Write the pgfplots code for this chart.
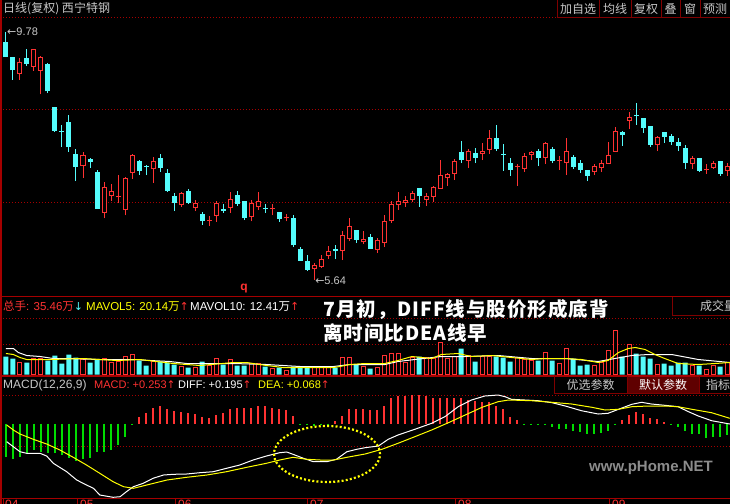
\documentclass[border=0pt]{standalone}
\usepackage{pgfplots}
\pgfplotsset{compat=1.18}
\usepackage{pgfplotstable}
\usepackage{fontspec}
\setmainfont{Liberation Sans}
\newfontfamily\cjk{Noto Sans CJK SC}
\newfontfamily\annot[LetterSpace=5]{Noto Sans CJK SC}
\newfontfamily\dejavu{DejaVu Sans}
\newcommand\fs[1]{\fontsize{#1bp}{#1bp}\selectfont}
\definecolor{cy}{RGB}{84,252,252}
\definecolor{rd}{RGB}{255,50,50}
\definecolor{gn}{RGB}{0,220,0}
\definecolor{yl}{RGB}{255,255,0}
\definecolor{dkr}{RGB}{128,0,0}
\definecolor{sep}{RGB}{165,0,0}
\definecolor{lg}{RGB}{200,200,200}
\definecolor{wm}{RGB}{140,140,140}
\definecolor{btn}{RGB}{95,0,0}

\pgfplotstableread{
i o h l c
0 9.61 9.78 9.36 9.36
1 9.36 9.36 8.98 9.14
3 9.35 9.50 9.21 9.25
6 9.25 9.26 8.76 8.79
7 8.53 8.53 8.11 8.13
8 8.13 8.23 7.86 8.11
9 8.28 8.39 7.78 7.86
10 7.74 7.83 7.29 7.53
12 7.66 7.68 7.51 7.61
13 7.44 7.48 6.83 6.83
19 7.63 7.64 7.39 7.46
20 7.55 7.56 7.39 7.53
22 7.68 7.74 7.44 7.51
23 7.43 7.49 7.11 7.13
24 7.04 7.09 6.79 6.93
26 7.13 7.16 6.91 6.93
28 6.74 6.77 6.56 6.62
31 6.83 6.91 6.76 6.79
33 7.06 7.13 6.88 6.91
34 6.96 6.96 6.64 6.67
37 6.83 6.91 6.76 6.82
39 6.77 6.77 6.61 6.66
41 6.67 6.72 6.19 6.22
42 6.16 6.19 5.96 5.96
43 5.96 6.06 5.79 5.81
47 6.15 6.22 5.99 6.13
50 6.47 6.47 6.26 6.31
52 6.36 6.41 6.16 6.16
59 7.18 7.18 6.86 7.04
65 7.78 7.96 7.59 7.64
67 7.76 7.84 7.59 7.68
70 8.01 8.23 7.79 7.83
71 7.75 7.91 7.46 7.73
72 7.59 7.68 7.38 7.48
76 7.79 7.83 7.54 7.68
78 7.83 7.86 7.59 7.63
81 7.69 7.73 7.49 7.53
82 7.59 7.64 7.43 7.48
83 7.48 7.48 7.29 7.38
88 8.11 8.13 7.88 8.06
90 8.39 8.59 8.23 8.37
91 8.34 8.34 8.09 8.18
92 8.21 8.21 7.86 7.89
94 8.11 8.11 7.93 8.03
95 8.04 8.08 7.89 7.94
96 7.94 8.01 7.79 7.88
97 7.84 7.89 7.49 7.59
99 7.68 7.68 7.44 7.46
102 7.63 7.63 7.38 7.41
}\cyanK

\pgfplotstableread{
i o h l c
2 9.08 9.35 8.98 9.28
4 9.20 9.50 9.13 9.50
5 9.13 9.38 8.74 9.36
11 7.54 7.78 7.34 7.73
14 6.76 7.28 6.67 7.19
15 7.04 7.24 6.96 7.13
16 7.02 7.39 6.93 7.03
17 6.81 7.36 6.72 7.34
18 7.43 7.74 7.33 7.73
21 7.49 7.69 7.26 7.63
25 6.89 7.11 6.86 7.09
27 6.84 6.98 6.79 6.93
29 6.62 6.71 6.54 6.63
30 6.71 6.96 6.61 6.93
32 6.84 7.11 6.76 6.99
35 6.69 6.98 6.62 6.93
36 6.86 7.11 6.81 6.96
38 6.82 6.91 6.72 6.83
40 6.67 6.74 6.62 6.68
44 5.82 5.92 5.64 5.89
45 5.86 6.06 5.84 5.99
46 6.04 6.21 5.99 6.12
48 6.12 6.46 5.97 6.39
49 6.32 6.67 6.29 6.54
51 6.27 6.46 6.24 6.32
53 6.14 6.34 6.09 6.31
54 6.26 6.72 6.19 6.62
55 6.62 6.96 6.59 6.91
56 6.89 7.11 6.81 6.96
57 6.93 7.04 6.86 6.98
58 6.98 7.13 6.94 7.09
60 6.98 7.09 6.88 7.04
61 7.03 7.21 6.94 7.19
62 7.16 7.64 7.16 7.39
63 7.34 7.43 7.21 7.41
64 7.41 7.66 7.31 7.63
66 7.63 7.83 7.51 7.79
68 7.74 7.93 7.64 7.79
69 7.81 8.14 7.74 8.01
73 7.53 7.58 7.21 7.55
74 7.49 7.76 7.44 7.71
75 7.73 7.79 7.64 7.78
77 7.68 7.94 7.58 7.93
79 7.62 7.71 7.48 7.63
80 7.59 8.01 7.39 7.79
84 7.44 7.58 7.39 7.54
85 7.51 7.64 7.44 7.59
86 7.58 7.94 7.58 7.73
87 7.78 8.19 7.78 8.13
89 8.29 8.44 8.16 8.36
93 7.89 8.04 7.79 8.03
98 7.58 7.71 7.49 7.68
100 7.47 7.58 7.41 7.48
101 7.51 7.63 7.49 7.59
103 7.46 7.59 7.38 7.54
}\redK

\pgfplotstableread{
i v
0 54
1 48
3 36
6 42
7 57
8 33
9 60
10 51
12 36
13 45
19 42
20 27
22 39
23 36
24 30
26 21
28 39
31 30
33 27
34 27
37 24
39 21
41 24
42 21
43 21
47 21
50 30
52 18
59 54
65 78
67 39
70 54
71 51
72 39
76 42
78 42
81 48
82 27
83 30
88 54
90 63
91 54
92 48
94 33
95 27
96 36
97 36
99 27
102 24
}\cyanV

\pgfplotstableread{
i v
2 36
4 48
5 48
11 45
14 48
15 36
16 39
17 54
18 60
21 39
25 24
27 21
29 27
30 48
32 45
35 33
36 33
38 18
40 12
44 21
45 21
46 21
48 51
49 51
51 24
53 21
54 57
55 63
56 63
57 36
58 51
60 51
61 48
62 96
63 48
64 54
66 57
68 54
69 54
73 51
74 45
75 42
77 66
79 33
80 78
84 27
85 36
86 72
87 132
89 90
93 30
98 27
100 15
101 27
103 36
}\redV

\pgfplotsset{
  panel/.style={scale only axis, width=730bp, xmin=-0.857, xmax=103.43,
    hide axis, anchor=south west, clip mode=individual},
  ebar/.style={draw=none, mark=none, forget plot,
    error bars/.cd, y dir=plus, y explicit, error mark=none,
    error bar style={draw=#1, line width=1bp}},
  bbar/.style 2 args={draw=none, mark=none, forget plot,
    error bars/.cd, y dir=plus, y explicit, error mark=none,
    error bar style={draw=#1, line width=#2}},
}

\begin{document}
\begin{tikzpicture}[x=1bp,y=-1bp]
\useasboundingbox (0,0) rectangle (730,504);
\fill[black] (0,0) rectangle (730,504);
\clip (0,0) rectangle (730,504);

% grid lines
\foreach \yy in {18,110,203,318,344,395,446}
  \draw[sep, line width=1bp, dash pattern=on 1bp off 2bp] (0,\yy) -- (730,\yy);

% ---------- price panel ----------
\begin{axis}[panel, at={(0bp,-296bp)}, height=278bp, ymin=5.373, ymax=10.014]
\addplot[ebar=cy] table[x=i, y=l, y error expr=\thisrow{h}-\thisrow{l}] {\cyanK};
\addplot[bbar={cy}{5bp}] table[x=i, y=c, y error expr={max(\thisrow{o}-\thisrow{c},0.02)}] {\cyanK};
\addplot[ebar=rd] table[x=i, y=l, y error expr=\thisrow{h}-\thisrow{l}] {\redK};
\addplot[bbar={rd}{5bp}] table[x=i, y=o, y error expr={max(\thisrow{c}-\thisrow{o},0.02)}] {\redK};
\addplot[bbar={black}{3bp}] table[x=i, y expr=\thisrow{o}+0.017, y error expr={max(\thisrow{c}-\thisrow{o}-0.034,0)}] {\redK};
\node[anchor=west, inner sep=0, text=lg] at (axis cs:0.15,9.79) {\fs{11}\dejavu ←\fontspec{Liberation Sans}9.78};
\node[anchor=west, inner sep=0, text=lg] at (axis cs:44.15,5.63) {\fs{11}\dejavu ←\fontspec{Liberation Sans}5.64};
\end{axis}

% ---------- volume panel ----------
\begin{axis}[panel, at={(0bp,-374.5bp)}, height=77.5bp, ymin=0, ymax=232.5]
\addplot[ybar, bar width=5bp, bar shift=0pt, fill=cy, draw=none] table[x=i, y=v] {\cyanV};
\addplot[ybar, bar width=4bp, bar shift=0pt, fill=black, draw=rd, line width=1bp] table[x=i, y=v] {\redV};
\addplot[white, line width=1bp, mark=none] coordinates {
(0,78) (1.05,78) (1.76,66) (2.95,57) (4.86,54) (6.76,48) (8.67,48) (13.4,45)
(18.2,45) (20.6,42) (23.4,39) (25.8,33) (28.7,33) (32.5,33) (37.2,30) (39.6,27)
(42,24) (46.8,24) (49.1,30) (51.3,30) (54.1,30) (56,39) (58.4,45) (62.2,54)
(65.6,54) (70.3,57) (75.1,48) (79.9,48) (84.6,39) (87,48) (89.4,57) (91.8,60)
(95.1,60) (98.9,45) (103.4,36)};
\addplot[yl, line width=1bp, mark=none] coordinates {
(0,63) (1.05,60) (2,51) (2.95,45) (6.3,45) (11,48) (15.8,42) (19.1,45)
(23.9,33) (27.7,27) (32.5,36) (34.4,36) (37.2,27) (39.6,21) (46.8,21) (47.7,24)
(49.1,30) (51.3,33) (54.1,33) (56,42) (58,54) (60.8,48) (62.2,60) (64.6,63)
(66.5,54) (69.4,57) (72.2,51) (75.1,45) (77,48) (79.9,48) (82.2,45) (84.6,36)
(86,42) (87.5,66) (88.9,78) (89.9,81) (91.3,75) (92.7,60) (94.1,48) (96,33)
(98.9,30) (101.3,33) (103.4,36)};
\end{axis}

% ---------- MACD panel ----------
\begin{axis}[panel, at={(0bp,-498bp)}, height=122bp, ymin=-0.745, ymax=0.475]
\addplot[ycomb, draw=rd, line width=1.5bp, mark=none] coordinates {
(19,0.065) (20,0.11) (21,0.16) (22,0.18) (23,0.15) (24,0.13) (25,0.12) (26,0.11)
(27,0.10) (28,0.07) (29,0.06) (30,0.085) (31,0.11) (32,0.145) (33,0.155) (34,0.155)
(35,0.16) (36,0.175) (37,0.175) (38,0.16) (39,0.15) (40,0.14) (41,0.08)
(47,0.03) (48,0.08) (49,0.15) (50,0.15) (51,0.15) (52,0.14) (53,0.14) (54,0.18)
(55,0.26) (56,0.275) (57,0.28) (58,0.29) (59,0.29) (60,0.28) (61,0.26) (62,0.26)
(63,0.26) (64,0.26) (65,0.26) (66,0.24) (67,0.23) (68,0.22) (69,0.22) (70,0.18)
(71,0.15) (72,0.07) (73,0.035) (88,0.04) (89,0.09) (90,0.12) (91,0.095) (92,0.06)
(93,0.045) (94,0.02)};
\addplot[ycomb, draw=gn, line width=1.5bp, mark=none] coordinates {
(0,-0.33) (1,-0.35) (2,-0.33) (3,-0.29) (4,-0.26) (5,-0.28) (6,-0.29) (7,-0.29)
(8,-0.31) (9,-0.34) (10,-0.37) (11,-0.35) (12,-0.34) (13,-0.28) (14,-0.28)
(15,-0.26) (16,-0.21) (17,-0.13) (18,-0.01) (42,-0.01) (43,-0.015) (44,-0.02)
(45,-0.015) (46,-0.01) (74,-0.005) (75,-0.005) (76,-0.01) (77,-0.01) (78,-0.035)
(79,-0.05) (80,-0.05) (81,-0.07) (82,-0.085) (83,-0.105) (84,-0.10) (85,-0.09)
(86,-0.07) (87,-0.005) (95,-0.01) (96,-0.035) (97,-0.07) (98,-0.10) (99,-0.10)
(100,-0.145) (101,-0.135) (102,-0.135) (103,-0.11)};
\addplot[white, line width=1bp, mark=none] coordinates {
(0.1,-0.182) (1.05,-0.232) (2,-0.282) (2.95,-0.298) (4.86,-0.298) (5.81,-0.325)
(6.76,-0.398) (8.67,-0.482) (10.1,-0.565) (11.5,-0.615) (12.5,-0.648) (13.4,-0.715)
(15.3,-0.738) (16.3,-0.732) (17.2,-0.682) (18.2,-0.632) (19.6,-0.598) (21,-0.548)
(22.5,-0.515) (23.9,-0.508) (25.8,-0.505) (27.7,-0.492) (29.6,-0.482) (31.5,-0.448)
(33.4,-0.415) (35.3,-0.365) (37.2,-0.325) (39.1,-0.292) (40.1,-0.285) (41,-0.308)
(42.5,-0.348) (43.9,-0.382) (45.8,-0.382) (47.2,-0.358) (48.7,-0.282) (50.1,-0.258)
(51.3,-0.242) (53.2,-0.225) (54.6,-0.158) (56,-0.115) (58.4,-0.058) (60.8,0.002)
(62.7,0.068) (64.6,0.168) (66.5,0.235) (68.4,0.275) (70.3,0.285) (71.3,0.268)
(72.2,0.242) (74.1,0.235) (76,0.228) (78,0.208) (79.9,0.175) (82.2,0.128)
(84.6,0.095) (86,0.102) (87.5,0.142) (89.4,0.192) (90.8,0.212) (92.2,0.195)
(94.1,0.182) (96,0.168) (97.5,0.118) (98.9,0.075) (100.8,0.028) (103.4,-0.005)};
\addplot[yl, line width=1bp, mark=none] coordinates {
(0.1,-0.015) (1.05,-0.065) (2,-0.105) (3.9,-0.158) (5.81,-0.205) (7.7,-0.265)
(9.6,-0.338) (11.5,-0.415) (13.4,-0.498) (15.3,-0.582) (16.8,-0.632) (18.2,-0.648)
(20.1,-0.615) (23,-0.565) (25.8,-0.538) (28.7,-0.515) (31.5,-0.482) (34.4,-0.438)
(37.2,-0.398) (39.1,-0.365) (41,-0.338) (43,-0.358) (44.9,-0.365) (46.8,-0.365)
(48.7,-0.338) (51.3,-0.305) (53.7,-0.258) (56,-0.198) (58.4,-0.132) (60.8,-0.065)
(63.2,0.008) (65.6,0.085) (68,0.162) (70.3,0.218) (71.8,0.235) (75.1,0.228)
(78,0.212) (80.8,0.195) (83.7,0.162) (85.6,0.135) (87.5,0.142) (89.4,0.168)
(91.8,0.175) (94.1,0.175) (96,0.168) (98,0.142) (100.8,0.108) (103.4,0.052)};
\end{axis}

% ellipse highlight
\draw[yl, line width=2.2bp, dash pattern=on 2bp off 2.2bp] (327,454) ellipse [x radius=53bp, y radius=28bp];

% separators and borders
\draw[sep, line width=1.5bp] (1,0) -- (1,504);
\draw[sep, line width=1.2bp] (0,296.8) -- (730,296.8);
\draw[sep, line width=1.2bp] (0,376) -- (730,376);
\draw[sep, line width=1.2bp] (0,498.5) -- (730,498.5);
\foreach \xx in {3,77,175,307,455,609}
  \draw[sep, line width=1bp] (\xx,498.5) -- (\xx,504);
\foreach \xx/\lab in {5/04,80/05,178/06,310/07,458/08,612/09}
  \node[anchor=north west, inner sep=0, text=rd] at (\xx,500) {\fs{12}\lab};

% top header
\node[anchor=west, inner sep=0, text=lg] at (3,9) {\fs{12}\cjk 日线(复权) 西宁特钢};
\draw[dkr, line width=1bp] (557,0) -- (557,17.5) -- (730,17.5);
\foreach \xx in {599,631,661,680,700} \draw[dkr, line width=1bp] (\xx,0) -- (\xx,17.5);
\foreach \xx/\lab in {578/加自选,615/均线,646/复权,670.5/叠,690/窗,715/预测}
  \node[inner sep=0, text=lg] at (\xx,9) {\fs{12}\cjk \lab};

% volume header
\node[anchor=west, inner sep=0] at (3,306.5) {\fs{11.5}\color{rd}{\cjk 总手}: 35.46{\cjk 万}{\color{cy}\dejavu\fs{11}↓}};
\node[anchor=west, inner sep=0] at (86,306.5) {\fs{11.5}\color{yl}MAVOL5: 20.14{\cjk 万}{\color{rd}\dejavu\fs{11}↑}};
\node[anchor=west, inner sep=0] at (190,306.5) {\fs{11.5}\color{white}MAVOL10: 12.41{\cjk 万}{\color{rd}\dejavu\fs{11}↑}};
\draw[dkr, line width=1bp] (672,297) -- (672,315) -- (730,315);
\node[anchor=west, inner sep=0, text=lg] at (700,306) {\fs{12}\cjk 成交量};

% MACD header
\node[anchor=west, inner sep=0] at (3,385) {\fs{12}\color{lg}MACD(12,26,9)};
\node[anchor=west, inner sep=0] at (94,385) {\fs{11}\color{rd}MACD: +0.253{\dejavu\fs{10.5}↑}};
\node[anchor=west, inner sep=0] at (178,385) {\fs{11}\color{white}DIFF: +0.195{\color{rd}\dejavu\fs{10.5}↑}};
\node[anchor=west, inner sep=0] at (258,385) {\fs{11}\color{yl}DEA: +0.068{\color{rd}\dejavu\fs{10.5}↑}};
\fill[btn] (627,376.5) rectangle (699,393);
\draw[dkr, line width=1bp] (554,376) -- (554,393) -- (730,393);
\draw[dkr, line width=1bp] (627,376) -- (627,393);
\draw[dkr, line width=1bp] (699,376) -- (699,393);
\node[inner sep=0, text=lg] at (590.5,384.5) {\fs{12}\cjk 优选参数};
\node[inner sep=0, text=white] at (663,384.5) {\fs{12}\cjk 默认参数};
\node[anchor=west, inner sep=0, text=lg] at (706,384.5) {\fs{12}\cjk 指标};

% annotation
\node[anchor=west, inner sep=0, text=white] at (323,310) {\fs{19.5}\annot\bfseries 7月初，DIFF线与股价形成底背};
\node[anchor=west, inner sep=0, text=white] at (323,333.5) {\fs{19.5}\annot\bfseries 离时间比DEA线早};
\node[inner sep=0, text=rd] at (244,289) {\fs{12}\bfseries q};

% watermark
\node[anchor=west, inner sep=0, text=wm] at (589,468) {\fs{15}\bfseries www.pHome.NET};
\end{tikzpicture}
\end{document}
